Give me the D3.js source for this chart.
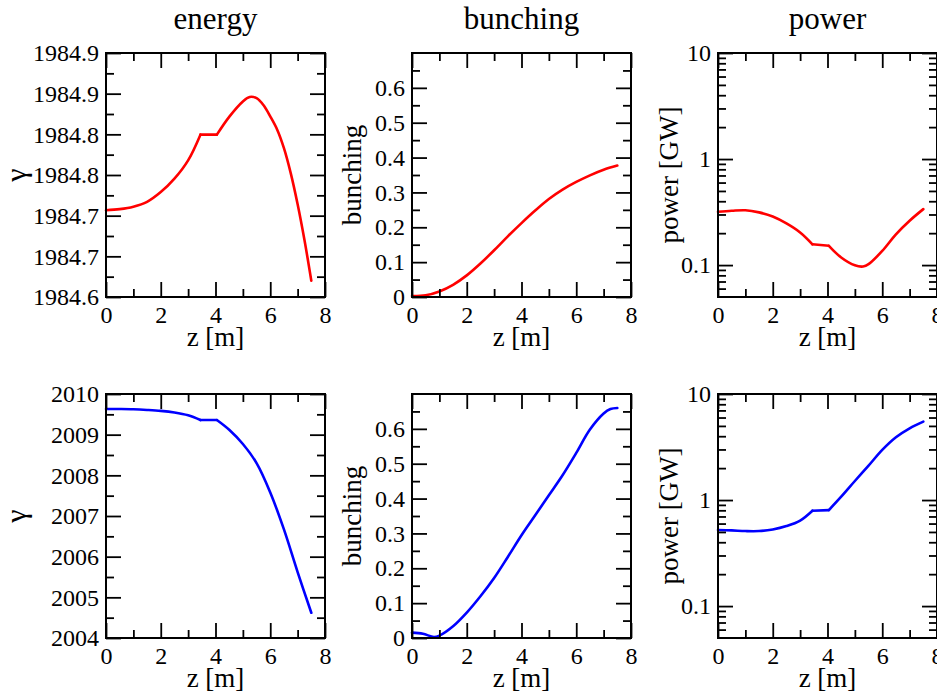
<!DOCTYPE html>
<html>
<head>
<meta charset="utf-8">
<script src="https://cdn.jsdelivr.net/npm/d3@7"></script>
<style>
  html, body { margin: 0; padding: 0; background: #fff; }
  svg { display: block; }
  text { font-family: "Liberation Serif", "Times New Roman", Times, serif; fill: #000; }
</style>
</head>
<body>
<svg id="chart" width="937" height="694"></svg>
<script>
// ---------------- data ----------------
const titles = ["energy", "bunching", "power"];
const xLabel = "z [m]";
const yLabels = ["γ", "bunching", "power [GW]"];

const xMajorTicks = [0, 2, 4, 6, 8];
const xMinorTicks = [1, 3, 5, 7];

// drift section (flat part of the curves)
const driftStart = 3.45, driftEnd = 4.05;

// energy, top row (red)
const zEnergyTop = [0, 0.5, 1, 1.5, 2, 2.5, 3, 3.45, 4.05, 4.5, 5, 5.25, 5.5, 5.75, 6, 6.25, 6.5, 6.75, 7, 7.25, 7.5];
const energyTop = [1984.7066, 1984.708, 1984.711, 1984.717, 1984.729, 1984.7455, 1984.768, 1984.7996, 1984.7996, 1984.8215,
                   1984.8405, 1984.846, 1984.8445, 1984.836, 1984.822, 1984.806, 1984.783, 1984.752, 1984.714, 1984.670, 1984.620];
const energyTopTicks = [1984.60, 1984.65, 1984.70, 1984.75, 1984.80, 1984.85, 1984.90];
const energyTopTickLabels = ["1984.6", "1984.7", "1984.7", "1984.8", "1984.8", "1984.9", "1984.9"];
const energyTopMinor = [1984.625, 1984.675, 1984.725, 1984.775, 1984.825, 1984.875];

// energy, bottom row (blue)
const zEnergyBot = [0, 0.5, 1, 1.5, 2, 2.5, 3, 3.45, 4.05, 4.5, 5, 5.5, 6, 6.5, 7, 7.5];
const energyBot = [2009.632, 2009.63, 2009.624, 2009.608, 2009.585, 2009.545, 2009.475, 2009.36, 2009.36, 2009.12,
                   2008.77, 2008.30, 2007.58, 2006.67, 2005.62, 2004.62];
const energyBotTicks = [2004, 2005, 2006, 2007, 2008, 2009, 2010];
const energyBotTickLabels = ["2004", "2005", "2006", "2007", "2008", "2009", "2010"];
const energyBotMinor = [2004.5, 2005.5, 2006.5, 2007.5, 2008.5, 2009.5];

// bunching
const zBunchTop = [0, 0.5, 1, 1.5, 2, 2.5, 3, 3.5, 4, 4.5, 5, 5.5, 6, 6.5, 7, 7.5];
const bunchTop = [0.003, 0.005, 0.016, 0.035, 0.062, 0.096, 0.134, 0.174, 0.212, 0.248, 0.281, 0.308, 0.330, 0.349, 0.365, 0.377];
const zBunchBot = [0, 0.4, 0.8, 1, 1.5, 2, 2.5, 3, 3.5, 4, 4.5, 5, 5.5, 6, 6.5, 7, 7.25, 7.5];
const bunchBot = [0.0153, 0.012, 0.003, 0.0067, 0.0335, 0.0727, 0.1196, 0.172, 0.2325, 0.2947, 0.352, 0.4096, 0.467,
                  0.531, 0.598, 0.644, 0.657, 0.660];
const bunchTicks = [0, 0.1, 0.2, 0.3, 0.4, 0.5, 0.6];
const bunchTickLabels = ["0", "0.1", "0.2", "0.3", "0.4", "0.5", "0.6"];
const bunchMinor = [0.05, 0.15, 0.25, 0.35, 0.45, 0.55, 0.65];

// power (log scale)
const zPowerTop = [0, 0.5, 1, 1.5, 2, 2.5, 3, 3.45, 4.05, 4.5, 5, 5.3, 5.5, 6, 6.5, 7, 7.5];
const powerTop = [0.318, 0.325, 0.329, 0.314, 0.287, 0.247, 0.203, 0.157, 0.152, 0.118, 0.0995, 0.097, 0.102, 0.136, 0.195, 0.262, 0.337];
const zPowerBot = [0, 0.5, 1, 1.5, 2, 2.5, 3, 3.45, 4.05, 4.5, 5, 5.5, 6, 6.5, 7, 7.5];
const powerBot = [0.521, 0.517, 0.510, 0.510, 0.528, 0.568, 0.640, 0.793, 0.804, 1.075, 1.512, 2.11, 2.97, 3.91, 4.75, 5.49];
const powerTicks = [0.1, 1, 10];
const powerTickLabels = ["0.1", "1", "10"];
const powerMinor = [0.06, 0.07, 0.08, 0.09, 0.2, 0.3, 0.4, 0.5, 0.6, 0.7, 0.8, 0.9, 2, 3, 4, 5, 6, 7, 8, 9];

// ---------------- layout ----------------
const colX = [106, 412, 718];
const rowY = [53, 394];
const W = 219, H = 244;
const MAJ = 15, MIN = 8;

const panels = [
  {row: 0, col: 0, z: zEnergyTop, v: energyTop, color: "#ff0000", type: "lin", domain: [1984.60, 1984.90],
   ticks: energyTopTicks, labels: energyTopTickLabels, minor: energyTopMinor, drift: true},
  {row: 0, col: 1, z: zBunchTop, v: bunchTop, color: "#ff0000", type: "lin", domain: [0, 0.7],
   ticks: bunchTicks, labels: bunchTickLabels, minor: bunchMinor, drift: false},
  {row: 0, col: 2, z: zPowerTop, v: powerTop, color: "#ff0000", type: "log", domain: [0.05, 10],
   ticks: powerTicks, labels: powerTickLabels, minor: powerMinor, drift: true},
  {row: 1, col: 0, z: zEnergyBot, v: energyBot, color: "#0000ff", type: "lin", domain: [2004, 2010],
   ticks: energyBotTicks, labels: energyBotTickLabels, minor: energyBotMinor, drift: true},
  {row: 1, col: 1, z: zBunchBot, v: bunchBot, color: "#0000ff", type: "lin", domain: [0, 0.7],
   ticks: bunchTicks, labels: bunchTickLabels, minor: bunchMinor, drift: false},
  {row: 1, col: 2, z: zPowerBot, v: powerBot, color: "#0000ff", type: "log", domain: [0.05, 10],
   ticks: powerTicks, labels: powerTickLabels, minor: powerMinor, drift: true},
];

const yLabelX = [26, 361, 678];
const yLabelSize = [30, 27, 27];

const svg = d3.select("#chart");
svg.append("rect").attr("width", 937).attr("height", 694).attr("fill", "#fff");

// column titles
titles.forEach((t, i) => {
  svg.append("text")
    .attr("x", colX[i] + W / 2).attr("y", 29)
    .attr("text-anchor", "middle")
    .attr("font-size", 31)
    .text(t);
});

function styleAxis(g, showText) {
  g.select(".domain").remove();
  g.selectAll(".tick line").attr("stroke", "#000").attr("stroke-width", 1.8);
  g.selectAll("text")
    .attr("font-family", '"Liberation Serif", "Times New Roman", Times, serif')
    .attr("font-size", 24)
    .attr("fill", "#000");
  if (!showText) g.selectAll("text").remove();
}

panels.forEach(p => {
  const x0 = colX[p.col], y0 = rowY[p.row];
  const g = svg.append("g").attr("transform", `translate(${x0},${y0})`);
  const x = d3.scaleLinear().domain([0, 8]).range([0, W]);
  const y = (p.type === "log" ? d3.scaleLog() : d3.scaleLinear()).domain(p.domain).range([H, 0]);

  // data line: smooth pieces, with a straight drift section between them
  const pts = d3.zip(p.z, p.v);
  let pieces;
  if (p.drift) {
    pieces = [
      {d: pts.filter(d => d[0] <= driftStart), c: d3.curveCatmullRom.alpha(0.5)},
      {d: pts.filter(d => d[0] >= driftStart && d[0] <= driftEnd), c: d3.curveLinear},
      {d: pts.filter(d => d[0] >= driftEnd), c: d3.curveCatmullRom.alpha(0.5)},
    ];
  } else {
    pieces = [{d: pts, c: d3.curveCatmullRom.alpha(0.5)}];
  }
  pieces.forEach(pc => {
    const line = d3.line().x(d => x(d[0])).y(d => y(d[1])).curve(pc.c);
    g.append("path")
      .datum(pc.d)
      .attr("d", line)
      .attr("fill", "none")
      .attr("stroke", p.color)
      .attr("stroke-width", 2.6)
      .attr("stroke-linejoin", "round")
      .attr("stroke-linecap", "round");
  });

  // bottom axis
  g.append("g").attr("transform", `translate(0,${H})`)
    .call(d3.axisBottom(x).tickValues(xMajorTicks).tickSizeInner(-MAJ).tickSizeOuter(0).tickPadding(9).tickFormat(d3.format("d")))
    .call(a => styleAxis(a, true));
  g.append("g").attr("transform", `translate(0,${H})`)
    .call(d3.axisBottom(x).tickValues(xMinorTicks).tickSizeInner(-MIN).tickSizeOuter(0).tickFormat(""))
    .call(a => styleAxis(a, false));
  // top axis
  g.append("g")
    .call(d3.axisTop(x).tickValues(xMajorTicks).tickSizeInner(-MAJ).tickSizeOuter(0).tickFormat(""))
    .call(a => styleAxis(a, false));
  g.append("g")
    .call(d3.axisTop(x).tickValues(xMinorTicks).tickSizeInner(-MIN).tickSizeOuter(0).tickFormat(""))
    .call(a => styleAxis(a, false));
  // left axis
  g.append("g")
    .call(d3.axisLeft(y).tickValues(p.ticks).tickSizeInner(-MAJ).tickSizeOuter(0).tickPadding(7)
      .tickFormat((d, i) => p.labels[i]))
    .call(a => styleAxis(a, true));
  g.append("g")
    .call(d3.axisLeft(y).tickValues(p.minor).tickSizeInner(-MIN).tickSizeOuter(0).tickFormat(""))
    .call(a => styleAxis(a, false));
  // right axis
  g.append("g").attr("transform", `translate(${W},0)`)
    .call(d3.axisRight(y).tickValues(p.ticks).tickSizeInner(-MAJ).tickSizeOuter(0).tickFormat(""))
    .call(a => styleAxis(a, false));
  g.append("g").attr("transform", `translate(${W},0)`)
    .call(d3.axisRight(y).tickValues(p.minor).tickSizeInner(-MIN).tickSizeOuter(0).tickFormat(""))
    .call(a => styleAxis(a, false));

  // frame
  g.append("rect").attr("width", W).attr("height", H)
    .attr("fill", "none").attr("stroke", "#000").attr("stroke-width", 2);

  // x label
  g.append("text")
    .attr("x", W / 2).attr("y", H + 49)
    .attr("text-anchor", "middle")
    .attr("font-size", 27)
    .text(xLabel);

  // y label
  const ly = y0 + H / 2;
  svg.append("text")
    .attr("transform", `translate(${yLabelX[p.col]},${ly}) rotate(-90)`)
    .attr("text-anchor", "middle")
    .attr("font-size", yLabelSize[p.col])
    .text(yLabels[p.col]);
});
</script>
</body>
</html>
